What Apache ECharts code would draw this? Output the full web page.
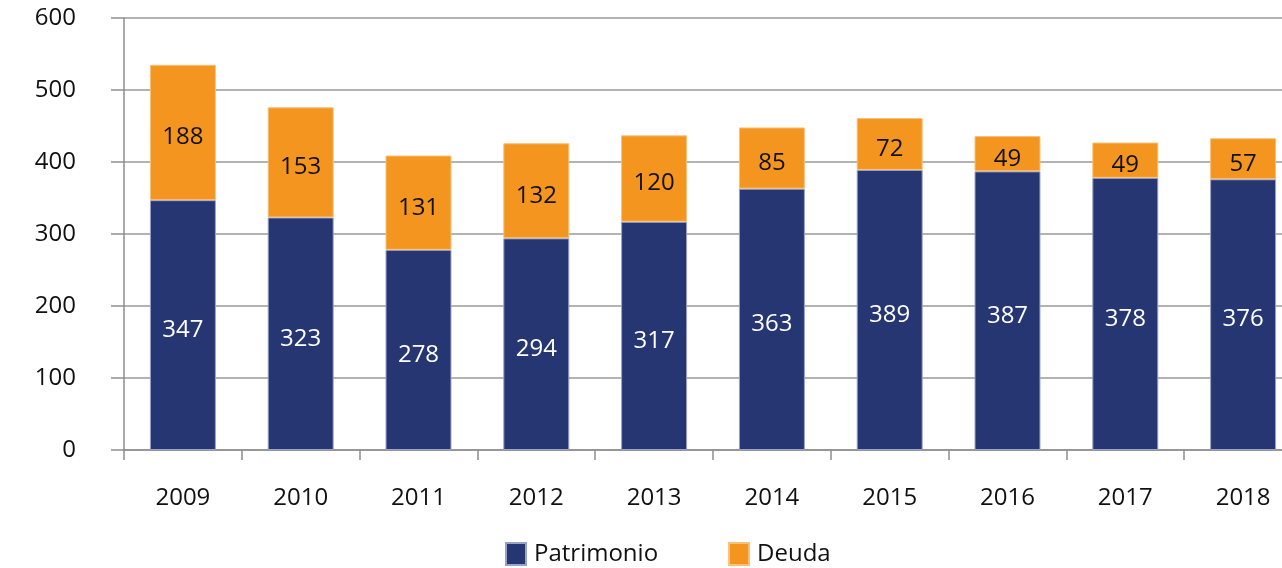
<!DOCTYPE html>
<html>
<head>
<meta charset="utf-8">
<script src="https://cdn.jsdelivr.net/npm/echarts@6/dist/echarts.min.js"></script>
<style>
html,body{margin:0;padding:0;background:#fff;}
#chart{width:1282px;height:568px;}
</style>
</head>
<body>
<div id="chart"></div>
<script>
const categories = ['2009','2010','2011','2012','2013','2014','2015','2016','2017','2018'];
const patrimonio = [347, 323, 278, 294, 317, 363, 389, 387, 378, 376];
const deuda = [188, 153, 131, 132, 120, 85, 72, 49, 49, 57];
const seriesNames = ['Patrimonio', 'Deuda'];

const FONT = '"Open Sans", "Noto Sans", sans-serif';
const chart = echarts.init(document.getElementById('chart'));
chart.setOption({
  animation: false,
  textStyle: { fontFamily: FONT },
  grid: { left: 124, width: 1178, top: 18, height: 432, containLabel: false, outerBoundsMode: 'none' },
  legend: {
    data: seriesNames,
    top: 542,
    left: 505,
    padding: 0,
    itemWidth: 20,
    itemHeight: 22,
    itemGap: 70,
    icon: 'rect',
    textStyle: { fontSize: 24, color: '#111', fontFamily: FONT, padding: [0,0,0,3] }
  },
  xAxis: {
    type: 'category',
    data: categories,
    axisLine: { lineStyle: { color: '#8e8e8e', width: 1.5 } },
    axisTick: { show: true, length: 10, lineStyle: { color: '#8e8e8e', width: 1.5 } },
    axisLabel: { fontSize: 24, color: '#111', margin: 36, fontFamily: FONT }
  },
  yAxis: {
    type: 'value',
    min: 0, max: 600, interval: 100,
    axisLine: { show: true, lineStyle: { color: '#8e8e8e', width: 1.5 } },
    axisTick: { show: true, length: 13, lineStyle: { color: '#8e8e8e', width: 1.5 } },
    splitLine: { show: true, lineStyle: { color: '#9a9a9a', width: 1.5 } },
    axisLabel: { fontSize: 24, color: '#111', margin: 48, fontFamily: FONT }
  },
  series: [
    {
      name: seriesNames[0], type: 'bar', stack: 'total', data: patrimonio,
      barWidth: '56%',
      itemStyle: { color: '#263673', borderColor: '#9aa2c8', borderWidth: 1 },
      label: { show: true, position: 'inside', offset: [0, 5], color: '#ffffff', fontSize: 24, fontFamily: FONT }
    },
    {
      name: seriesNames[1], type: 'bar', stack: 'total', data: deuda,
      barWidth: '56%',
      itemStyle: { color: '#f3951e', borderColor: '#f8c17a', borderWidth: 1 },
      label: { show: true, position: 'inside', offset: [0, 5], color: '#111', fontSize: 24, fontFamily: FONT }
    }
  ]
});
</script>
</body>
</html>
